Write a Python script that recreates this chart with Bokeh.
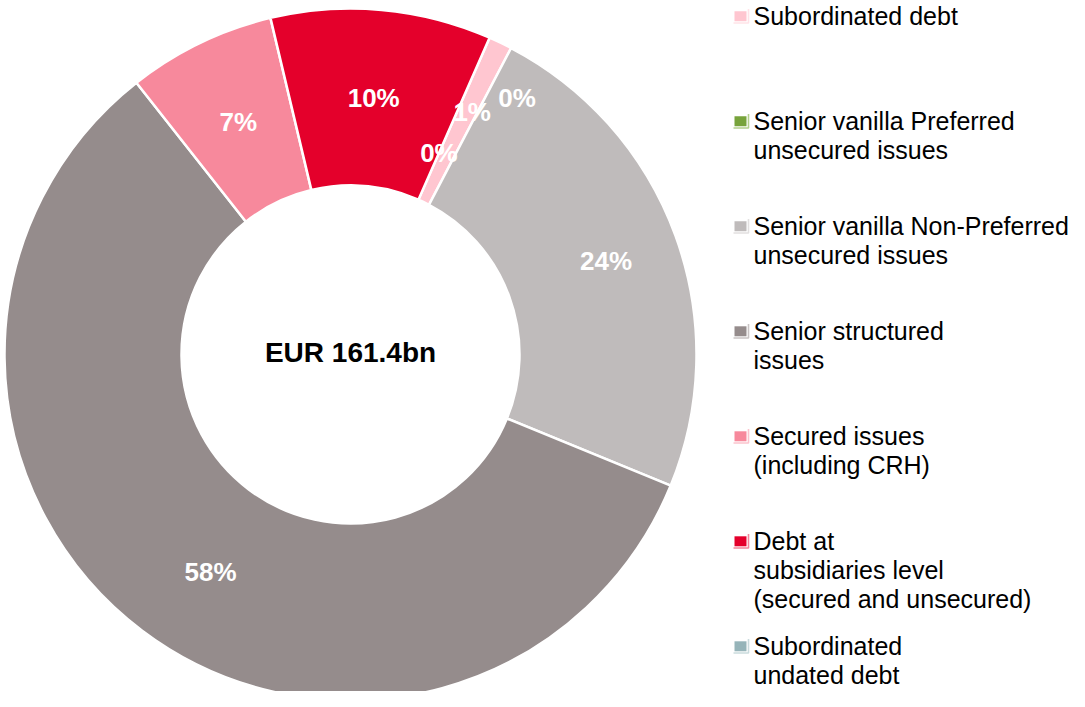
import math
from bokeh.plotting import figure
from bokeh.models import Range1d, ColumnDataSource
from bokeh.embed import file_html
from bokeh.resources import INLINE
from bokeh.core.properties import value

# ---------------- data ----------------
categories = [
    "Subordinated debt",
    "Senior vanilla Preferred unsecured issues",
    "Senior vanilla Non-Preferred unsecured issues",
    "Senior structured issues",
    "Secured issues (including CRH)",
    "Debt at subsidiaries level (secured and unsecured)",
    "Subordinated undated debt",
]
legend_lines = [
    ["Subordinated debt"],
    ["Senior vanilla Preferred", "unsecured issues"],
    ["Senior vanilla Non-Preferred", "unsecured issues"],
    ["Senior structured", "issues"],
    ["Secured issues", "(including CRH)"],
    ["Debt at", "subsidiaries level", "(secured and unsecured)"],
    ["Subordinated", "undated debt"],
]
shares = [1.1, 0.0, 23.5, 58.2, 6.9, 10.3, 0.0]   # % of total
total_label = "EUR 161.4bn"

# ---------------- styles ----------------
colors = ["#FFC6D0", "#77A33B", "#BFBBBB", "#958C8C", "#F7899C", "#E4002B", "#96B4B9"]
edge_colors = ["#FFE3E8", "#B3D08C", "#E2E0E0", "#C9C4C4", "#FBC4CD", "#F3859A", "#CADBDD"]
FONT = "Liberation Sans"

W, H = 1069, 691
cx, cy = 350, 354           # pie centre (px from top-left)
r_out, r_in = 346, 169
start_deg = 23.7            # clockwise from 12 o'clock

# label placement (radius, angular nudge in degrees)
label_r = [271, 306, 272, 259, 258, 258, 220]
label_dth = [1.0, 5.3, 0.0, -4.3, 0.0, 0.0, 0.0]

p = figure(width=W, height=H, x_range=Range1d(0, W), y_range=Range1d(-H, 0),
           output_backend="svg", toolbar_location=None, min_border=0,
           x_axis_location=None, y_axis_location=None)
p.grid.visible = False
p.outline_line_color = None
p.background_fill_color = "white"
p.border_fill_color = "white"

# ---------------- wedges ----------------
tot = sum(shares)
starts, ends = [], []
acc = start_deg
for v in shares:
    a0 = acc
    a1 = acc + 360.0 * v / tot
    starts.append(a0)
    ends.append(a1)
    acc = a1

ws = dict(x=[], y=[], sa=[], ea=[], c=[])
for i, v in enumerate(shares):
    if v <= 0:
        continue
    ws["x"].append(cx)
    ws["y"].append(-cy)
    ws["sa"].append(math.radians(90 - ends[i]))
    ws["ea"].append(math.radians(90 - starts[i]))
    ws["c"].append(colors[i])
src = ColumnDataSource(ws)
p.annular_wedge(x="x", y="y", inner_radius=r_in, outer_radius=r_out,
                start_angle="sa", end_angle="ea", fill_color="c",
                line_color="white", line_width=2.5, source=src)

# ---------------- percentage labels ----------------
lx, ly, lt = [], [], []
for i, v in enumerate(shares):
    mid = (starts[i] + ends[i]) / 2 + label_dth[i]
    t = math.radians(mid)
    lx.append(cx + label_r[i] * math.sin(t))
    ly.append(-(cy - label_r[i] * math.cos(t)))
    lt.append(f"{int(v + 0.5)}%")
p.text(x=lx, y=ly, text=lt, text_color="white", text_font=value(FONT),
       text_font_style="bold", text_font_size="26px",
       text_align="center", text_baseline="middle")

# centre text
p.text(x=[cx], y=[-(cy - 2)], text=[total_label], text_color="black",
       text_font=value(FONT), text_font_style="bold", text_font_size="28px",
       text_align="center", text_baseline="middle")

# ---------------- legend ----------------
leg_x_marker = 740
leg_x_text = 753
leg_y0 = 15
leg_gap = 105
line_h = 29
tx, ty, tt = [], [], []
for i, lines in enumerate(legend_lines):
    yc = leg_y0 + leg_gap * i
    p.multi_line(xs=[[leg_x_marker - 7, leg_x_marker + 8, leg_x_marker + 8]],
                 ys=[[-(yc + 7.5), -(yc + 7.5), -(yc - 6.5)]],
                 line_color=edge_colors[i], line_width=1.6)
    p.rect(x=[leg_x_marker], y=[-(yc + 0.8)], width=12, height=10,
           fill_color=colors[i], line_color=None)
    for j, s in enumerate(lines):
        tx.append(leg_x_text)
        ty.append(-(yc + j * line_h))
        tt.append(s)
p.text(x=tx, y=ty, text=tt, text_color="black", text_font=value(FONT),
       text_font_size="25px", text_align="left", text_baseline="middle")

open("out.html", "w").write(file_html(p, INLINE))
